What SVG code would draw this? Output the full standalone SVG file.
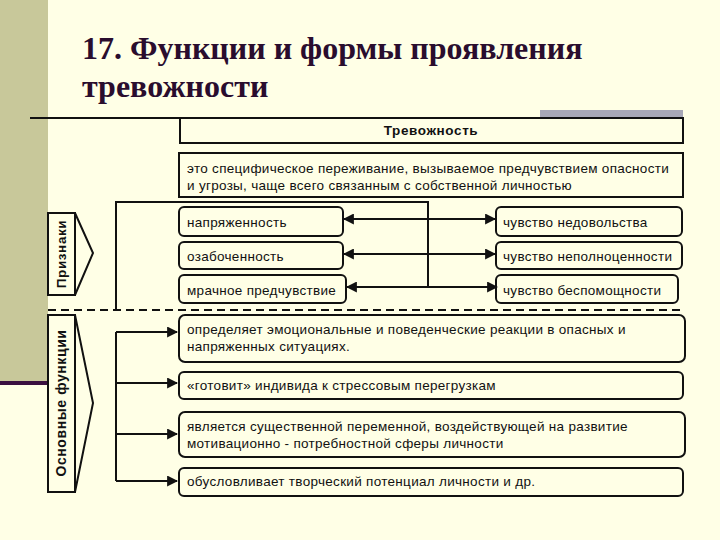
<svg xmlns="http://www.w3.org/2000/svg" width="720" height="540" viewBox="0 0 720 540">
<defs>
<style>
.t{font-family:"Liberation Sans",Arial,sans-serif;font-size:13.5px;letter-spacing:0.3px;fill:#111}
.b{font-family:"Liberation Sans",Arial,sans-serif;font-size:13.5px;letter-spacing:0.6px;font-weight:bold;fill:#111}
.title{font-family:"Liberation Serif","Times New Roman",serif;font-size:32px;font-weight:bold;fill:#2a0d2e}
.box{fill:#FFFFE6;stroke:#111;stroke-width:2}
.ln{fill:none;stroke:#111;stroke-width:2}
</style>
<marker id="ah" viewBox="0 0 10 10" refX="9" refY="5" markerWidth="5.5" markerHeight="5.5" orient="auto-start-reverse" markerUnits="strokeWidth">
<path d="M0,0 L10,5 L0,10 z" fill="#111"/>
</marker>
</defs>
<rect width="720" height="540" fill="#FFFFE6"/>
<rect x="0" y="0" width="48" height="382" fill="#C8C89A"/>
<rect x="0" y="381" width="48" height="4" fill="#3a1040"/>
<text class="title" x="82" y="59">17. Функции и формы проявления</text>
<text class="title" x="82" y="97">тревожности</text>
<line x1="30" y1="118" x2="540" y2="118" stroke="#111" stroke-width="2"/>
<rect x="540" y="110" width="143" height="15" fill="#A8A8B8"/>

<g id="n-trevozhnost"><rect class="box" x="180" y="118" width="503" height="25"/><text class="b" x="431" y="135" text-anchor="middle">Тревожность</text></g>
<g id="n-def"><rect class="box" x="179" y="153" width="504" height="44"/><text class="t" x="187" y="173">это специфическое переживание, вызываемое предчувствием опасности</text><text class="t" x="187" y="190">и угрозы, чаще всего связанным с собственной личностью</text></g>

<g id="n-priznaki"><rect class="box" x="48" y="213" width="27" height="82"/><path class="ln" d="M75,213 L93,253 L75,295"/><text class="b" transform="translate(66,254) rotate(-90)" text-anchor="middle">Признаки</text></g>
<g id="n-funkcii"><rect class="box" x="48" y="315" width="27" height="177"/><path class="ln" d="M75,315 L93,403 L75,492"/><text class="b" transform="translate(66,403) rotate(-90)" text-anchor="middle" style="font-size:14px">Основные функции</text></g>

<g id="n-l1"><rect class="box" x="179" y="207" width="164" height="29" rx="5"/><text class="t" x="187" y="227">напряженность</text></g>
<g id="n-l2"><rect class="box" x="179" y="242" width="164" height="27" rx="5"/><text class="t" x="187" y="261">озабоченность</text></g>
<g id="n-l3"><rect class="box" x="179" y="275" width="167" height="28" rx="5"/><text class="t" x="187" y="295">мрачное предчувствие</text></g>
<g id="n-r1"><rect class="box" x="496" y="207" width="186" height="29" rx="5"/><text class="t" x="503" y="227">чувство недовольства</text></g>
<g id="n-r2"><rect class="box" x="496" y="242" width="186" height="27" rx="5"/><text class="t" x="503" y="261">чувство неполноценности</text></g>
<g id="n-r3"><rect class="box" x="496" y="275" width="182" height="28" rx="5"/><text class="t" x="503" y="295">чувство беспомощности</text></g>

<g id="n-f1"><rect class="box" x="179" y="315" width="506" height="47" rx="6"/><text class="t" x="187" y="334">определяет эмоциональные и поведенческие реакции в опасных и</text><text class="t" x="187" y="351">напряженных ситуациях.</text></g>
<g id="n-f2"><rect class="box" x="179" y="372" width="504" height="27" rx="5"/><text class="t" x="187" y="390">«готовит» индивида к стрессовым перегрузкам</text></g>
<g id="n-f3"><rect class="box" x="179" y="412" width="506" height="45" rx="6"/><text class="t" x="187" y="431">является существенной переменной, воздействующей на развитие</text><text class="t" x="187" y="448">мотивационно - потребностной сферы личности</text></g>
<g id="n-f4"><rect class="box" x="179" y="468" width="504" height="28" rx="5"/><text class="t" x="187" y="486">обусловливает творческий потенциал личности и др.</text></g>

<g id="connectors">
<path class="ln" d="M116,310 L116,202 L428,202 L428,287"/>
<line x1="48" y1="310" x2="683" y2="310" stroke="#111" stroke-width="2" stroke-dasharray="8,5"/>
<line class="ln" x1="344" y1="219" x2="495" y2="219" marker-start="url(#ah)" marker-end="url(#ah)"/>
<line class="ln" x1="344" y1="254" x2="495" y2="254" marker-start="url(#ah)" marker-end="url(#ah)"/>
<line class="ln" x1="347" y1="287" x2="497" y2="287" marker-start="url(#ah)" marker-end="url(#ah)"/>
<path class="ln" d="M116,332 L116,481"/>
<line class="ln" x1="116" y1="332" x2="177" y2="332" marker-end="url(#ah)"/>
<line class="ln" x1="116" y1="383" x2="177" y2="383" marker-end="url(#ah)"/>
<line class="ln" x1="116" y1="434" x2="177" y2="434" marker-end="url(#ah)"/>
<line class="ln" x1="116" y1="481" x2="177" y2="481" marker-end="url(#ah)"/>
</g>
</svg>
